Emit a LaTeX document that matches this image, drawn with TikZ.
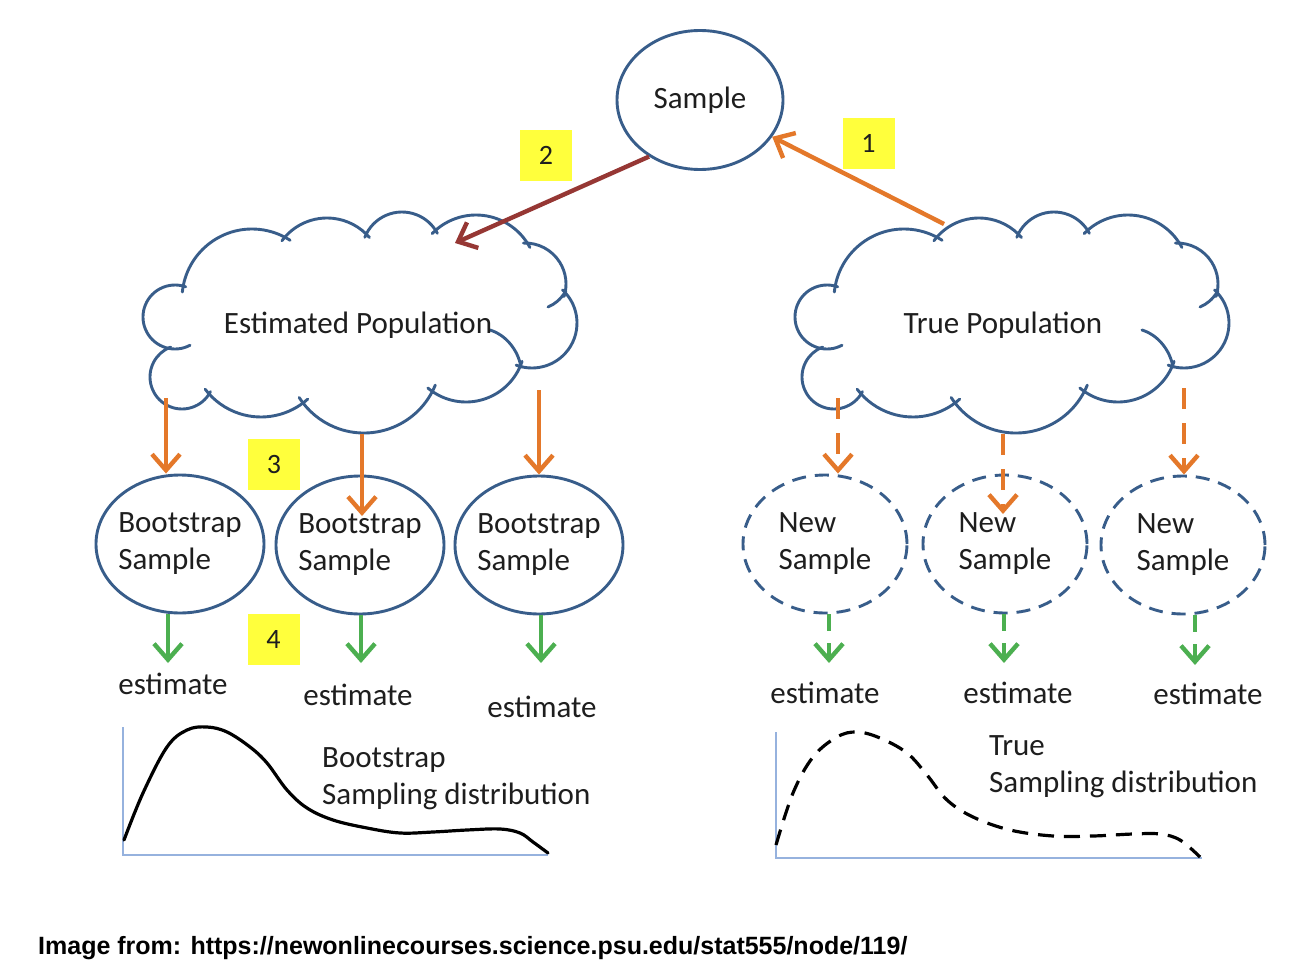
\documentclass[tikz,border=0pt]{standalone}
\usepackage{fontspec}
\setmainfont{Carlito}
\newfontfamily\capfont{Liberation Sans}
\usetikzlibrary{arrows.meta,shapes.geometric,calc}
\definecolor{ellblue}{RGB}{56,93,138}
\definecolor{arrorange}{RGB}{228,120,42}
\definecolor{arrred}{RGB}{150,55,52}
\definecolor{arrgreen}{RGB}{76,175,80}
\definecolor{axisblue}{RGB}{150,178,222}
\definecolor{boxyellow}{RGB}{255,255,60}
\definecolor{txtcol}{RGB}{30,30,30}
\begin{document}
\begin{tikzpicture}[x=1pt,y=-1pt,
  txt/.style={font=\fontsize{31}{37}\selectfont, text=txtcol, inner sep=0pt},
  ell/.style={ellipse, draw=ellblue, line width=2.9pt, inner sep=0pt,
    minimum width=168pt, minimum height=138pt, align=left,
    font=\fontsize{31}{37}\selectfont, text=txtcol},
  bell/.style={ell, inner xsep=-3pt},
  dashell/.style={ell, minimum width=164pt, dash pattern=on 14pt off 9pt},
  cloudline/.style={draw=ellblue, line width=2.9pt, line cap=round},
  tipV/.style={-{Straight Barb[length=16pt,width=28pt]}},
  oarrow/.style={draw=arrorange, line width=4.4pt, tipV},
  rarrow/.style={draw=arrred, line width=4.4pt, tipV},
  garrow/.style={draw=arrgreen, line width=4.4pt, tipV},
  odash/.style={dash pattern=on 21pt off 14pt},
  gdash/.style={dash pattern=on 17pt off 12pt},
  ybox/.style={fill=boxyellow, minimum width=52pt, minimum height=51pt, inner sep=0pt,
    font=\fontsize{28}{32}\selectfont, text=txtcol},
  curve/.style={line width=3.2pt, black, line cap=round, line join=round},
  dcurve/.style={curve, line cap=butt, dash pattern=on 16pt off 10pt},
  axis/.style={draw=axisblue, line width=1.3pt}
]
\fill[white] (0,0) rectangle (1294,974);
\useasboundingbox (0,0) rectangle (1294,974);

% clouds
\foreach \sx in {0,652}{
  \begin{scope}[shift={(\sx,0)}]
    \foreach \cx/\cy/\r/\a/\b in {175/317/32/62/289.5, 252/299/70/185.7/303,
      327/274/56/216.4/319.3, 402/252/40/201.6/332.1, 476/276/61/224/332.1,
      525/284/41/267.8/377.7, 532/323/45/312.7/470.6, 466/343/59/18.1/130.3,
      364/356/77/22.2/147.4, 261/347/70/48.1/142.9, 182/377/32/27.2/249.2}
      \draw[cloudline] (\cx,\cy) ++(\a:\r) arc[start angle=\a, end angle=\b, radius=\r];
    \draw[cloudline] (566,291) .. controls (560,300) and (555,304) .. (548,307);
    \draw[cloudline] (521,367) .. controls (518,350) and (506,335) .. (490,330);
  \end{scope}
}
\node[txt, anchor=base] (estpop) at (358,333) {Estimated Population};
\node[txt, anchor=base] (truepop) at (1003,333) {True Population};

% sample
\node[ell, minimum width=166pt, minimum height=139pt] (sample) at (700,100) {Sample};

% bootstrap and new samples
\node[bell] (b1) at (180,544) {Bootstrap\\Sample};
\node[bell] (b2) at (360,545) {Bootstrap\\Sample};
\node[bell] (b3) at (539,545) {Bootstrap\\Sample};
\node[dashell] (n1) at (825,544) {New\\Sample};
\node[dashell] (n2) at (1005,544) {New\\Sample};
\node[dashell] (n3) at (1183,545) {New\\Sample};

% yellow labels
\node[ybox] (lab1) at (868.5,143) {1};
\node[ybox] (lab2) at (546,155.5) {2};
\node[ybox] (lab3) at (274,464.5) {3};
\node[ybox] (lab4) at (273.5,639.5) {4};

% arrows 1 and 2
\coordinate (s1) at (944,224);
\coordinate (a2end) at (455,243);
\draw[oarrow] (s1) -- (sample.333);
\draw[rarrow] (sample.228) -- (a2end);

% orange arrows left
\coordinate (c1) at (166,398);
\coordinate (c2) at (362,434);
\coordinate (c2e) at (362,516);
\coordinate (c3) at (539,390);
\draw[oarrow] (c1) -- (c1 |- b1.north);
\draw[oarrow] (c2) -- (c2e);
\draw[oarrow] (c3) -- (c3 |- b3.north);

% orange dashed arrows right
\coordinate (d1) at (838,398);
\coordinate (d2) at (1003,434);
\coordinate (d2e) at (1003,514);
\coordinate (d3) at (1184,388);
\draw[oarrow, odash] (d1) -- (d1 |- n1.north);
\draw[oarrow, odash] (d2) -- (d2e);
\draw[oarrow, odash] (d3) -- (d3 |- n3.north);

% green arrows
\coordinate (g1) at (168,663);
\coordinate (g2) at (361,663);
\coordinate (g3) at (541,663);
\coordinate (h1) at (829,663);
\coordinate (h2) at (1004,663);
\coordinate (h3) at (1195,665);
\draw[garrow] (b1.south -| g1) -- (g1);
\draw[garrow] (b2.south -| g2) -- (g2);
\draw[garrow] (b3.south -| g3) -- (g3);
\draw[garrow, gdash] (n1.south -| h1) -- (h1);
\draw[garrow, gdash] (n2.south -| h2) -- (h2);
\draw[garrow, gdash] (n3.south -| h3) -- (h3);

% estimates
\node[txt, anchor=base] (est1) at (173,694) {estimate};
\node[txt, anchor=base] (est2) at (358,705) {estimate};
\node[txt, anchor=base] (est3) at (542,717) {estimate};
\node[txt, anchor=base] (est4) at (825,703) {estimate};
\node[txt, anchor=base] (est5) at (1018,703) {estimate};
\node[txt, anchor=base] (est6) at (1208,704) {estimate};

% distributions
\draw[axis] (123,727) -- (123,855) -- (548,855);
\draw[curve] plot[smooth, tension=0.6] coordinates {(124,840) (143,793) (167,747) (187,730) (207,727) (227,732) (250,747) (267,763) (287,790) (307,808) (333,820) (367,828) (400,833) (433,832) (467,830) (500,829) (520,833) (533,842) (548,853)};
\node[txt, anchor=north west, align=left] (bsd) at (322,747) {Bootstrap\\Sampling distribution};

\draw[axis] (776,732) -- (776,858) -- (1202,858);
\draw[dcurve] plot[smooth, tension=0.6] coordinates {(776,845) (793,793) (813,757) (837,737) (857,732) (880,738) (907,753) (927,775) (947,800) (973,817) (1010,830) (1053,836) (1093,836) (1133,834) (1160,834) (1180,840) (1200,857)};
\node[txt, anchor=north west, align=left] (tsd) at (989,735) {True\\Sampling distribution};

% caption
\node[anchor=base west, inner sep=0pt, font=\capfont\bfseries\fontsize{25}{30}\selectfont] (cap) at (38,954) {Image from: https://newonlinecourses.science.psu.edu/stat555/node/119/};
\end{tikzpicture}
\end{document}
